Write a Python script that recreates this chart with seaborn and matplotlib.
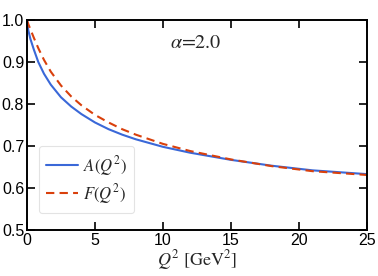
import numpy as np
import pandas as pd
import seaborn as sns
from matplotlib import pyplot as plt

# values
q2 = [0, 0.1, 0.25, 0.5, 0.83, 1.25, 1.75, 2.5, 3.25, 4, 5, 6, 7, 8, 10, 12, 15, 18, 21, 25]
a_vals = [1.0, 0.975, 0.955, 0.93, 0.90, 0.872, 0.846, 0.816, 0.794, 0.776, 0.756, 0.740,
          0.727, 0.716, 0.698, 0.684, 0.667, 0.653, 0.642, 0.633]
f_vals = [1.0, 0.99, 0.978, 0.958, 0.933, 0.905, 0.877, 0.844, 0.818, 0.797, 0.774, 0.756,
          0.740, 0.727, 0.705, 0.688, 0.668, 0.652, 0.640, 0.631]
x_ticks = [0, 5, 10, 15, 20, 25]
y_ticks = [0.5, 0.6, 0.7, 0.8, 0.9, 1.0]

df = pd.DataFrame({"Q2": q2, "A": a_vals, "F": f_vals})

sns.set_theme(style="ticks")
plt.rcParams['font.family'] = ['Liberation Sans', 'DejaVu Sans']
plt.rcParams['mathtext.fontset'] = 'stix'
plt.rcParams['axes.linewidth'] = 1.4

fig = plt.figure(figsize=(3.78, 2.76), dpi=100)
ax = fig.add_axes([0.0714, 0.1667, 0.8996, 0.7608])

sns.lineplot(data=df, x="Q2", y="A", ax=ax, color="#3a68d8", lw=1.5,
             label=r"$A(Q^2)$")
sns.lineplot(data=df, x="Q2", y="F", ax=ax, color="#d9400c", lw=1.5,
             ls=(0, (4, 2.5)), label=r"$F(Q^2)$")

ax.set_xlim(0, 25)
ax.set_ylim(0.5, 1.0)
ax.set_xticks(x_ticks)
ax.set_yticks(y_ticks)
ax.set_xticklabels([str(t) for t in x_ticks])
ax.set_yticklabels([f"{t:.1f}" for t in y_ticks])
ax.tick_params(direction="in", length=6, width=1.2, labelsize=11.5,
               top=True, right=True, pad=2, colors="black")
for s in ax.spines.values():
    s.set_color("black")

ax.set_xlabel(r"$Q^2$ [GeV$^2$]", family="STIXGeneral", fontsize=13, labelpad=0)
ax.set_ylabel("")
ax.text(12.4, 0.945, r"$\alpha$=2.0", family="STIXGeneral", fontsize=14.5,
        ha="center", va="center")

leg = ax.legend(loc="lower left", bbox_to_anchor=(0.01, 0.04), fontsize=12,
                frameon=True, fancybox=True, handlelength=1.9, borderpad=0.45,
                labelspacing=0.25, handletextpad=0.3)
leg.get_frame().set_edgecolor("#dddddd")
leg.get_frame().set_linewidth(0.8)

fig.savefig("out.png", dpi=100)
